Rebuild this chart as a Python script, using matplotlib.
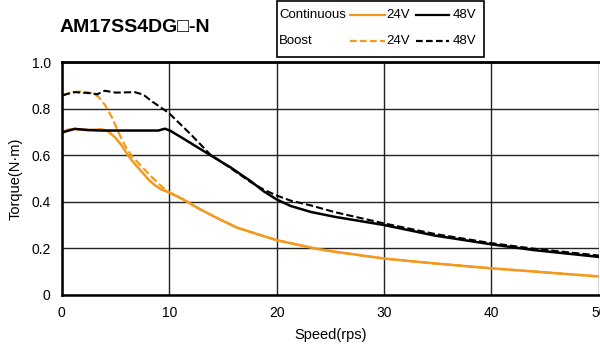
import matplotlib
matplotlib.use("Agg")
import matplotlib.pyplot as plt
from matplotlib.lines import Line2D

plt.rcParams['font.family'] = ['Liberation Sans', 'DejaVu Sans']

# Data (speed rps, torque N·m)
cont24_x = [0.1, 0.6, 1.2, 2.5, 3.7, 4.3, 5.0, 5.6, 6.2, 6.8, 7.5, 8.1, 8.7, 9.3, 10.0, 11.3, 12.9, 14.5, 16.3, 18.2, 20.0, 21.9, 23.8, 25.45, 30.0, 34.7, 40.0, 44.0, 50.0]
cont24_y = [0.70, 0.71, 0.713, 0.708, 0.712, 0.703, 0.675, 0.64, 0.597, 0.562, 0.526, 0.494, 0.47, 0.452, 0.44, 0.41, 0.367, 0.329, 0.289, 0.261, 0.235, 0.216, 0.197, 0.185, 0.156, 0.135, 0.114, 0.10, 0.079]

boost24_x = [0.1, 0.9, 1.9, 2.8, 3.4, 4.0, 4.7, 5.3, 5.9, 6.5, 7.5, 8.4, 9.2, 9.9, 11.3, 12.9, 14.5, 16.3, 18.2, 20.0, 21.9, 23.8, 25.45, 30.0, 34.7, 40.0, 44.0, 50.0]
boost24_y = [0.857, 0.871, 0.874, 0.867, 0.852, 0.817, 0.76, 0.696, 0.64, 0.597, 0.548, 0.505, 0.47, 0.443, 0.41, 0.367, 0.329, 0.289, 0.261, 0.235, 0.216, 0.197, 0.185, 0.156, 0.135, 0.114, 0.10, 0.079]

cont48_x = [0.1, 0.4, 1.2, 2.5, 3.7, 5.6, 9.0, 9.6, 10.1, 11.3, 13.8, 15.7, 17.6, 18.8, 20.0, 21.3, 23.2, 25.45, 30.0, 34.7, 40.0, 44.0, 50.0]
cont48_y = [0.698, 0.703, 0.713, 0.708, 0.706, 0.706, 0.706, 0.714, 0.705, 0.672, 0.601, 0.548, 0.488, 0.445, 0.41, 0.382, 0.356, 0.335, 0.30, 0.255, 0.217, 0.192, 0.163]

boost48_x = [0.1, 0.4, 1.2, 2.5, 3.3, 4.0, 5.0, 6.8, 7.6, 8.4, 9.2, 10.0, 10.6, 12.0, 13.8, 15.7, 17.6, 18.8, 20.0, 21.3, 23.2, 25.45, 30.0, 34.7, 40.0, 44.0, 50.0]
boost48_y = [0.857, 0.862, 0.871, 0.867, 0.862, 0.877, 0.869, 0.871, 0.86, 0.831, 0.806, 0.78, 0.753, 0.69, 0.604, 0.545, 0.484, 0.452, 0.427, 0.405, 0.384, 0.355, 0.307, 0.262, 0.222, 0.198, 0.169]

x_ticks = [0, 10, 20, 30, 40, 50]
y_ticks = [0, 0.2, 0.4, 0.6, 0.8, 1.0]
y_tick_labels = ['0', '0.2', '0.4', '0.6', '0.8', '1.0']

ORANGE = '#f39a1e'

fig = plt.figure(figsize=(6.0, 3.51), dpi=100)
ax = fig.add_axes([0.103, 0.160, 0.895, 0.663])

kw = dict(solid_joinstyle='round', dash_joinstyle='round')
ax.plot(cont24_x, cont24_y, color=ORANGE, lw=1.8, **kw)
ax.plot(boost24_x, boost24_y, color=ORANGE, lw=1.6, ls=(0, (3.5, 1.5)), **kw)
ax.plot(cont48_x, cont48_y, color='black', lw=1.8, **kw)
ax.plot(boost48_x, boost48_y, color='black', lw=1.5, ls=(0, (3.5, 1.5)), **kw)

ax.set_xlim(0, 50)
ax.set_ylim(0, 1.0)
ax.set_xticks(x_ticks)
ax.set_yticks(y_ticks)
ax.set_yticklabels(y_tick_labels)
ax.tick_params(length=0, labelsize=10, pad=8)
ax.grid(True, color='#222222', lw=1.0)
ax.spines['right'].set_visible(False)
ax.spines['top'].set_linewidth(2.0)
ax.spines['left'].set_linewidth(1.8)
ax.spines['bottom'].set_linewidth(1.8)
ax.set_axisbelow(True)

ax.set_xlabel('Speed(rps)', fontsize=10.5, labelpad=6)
ax.set_ylabel('Torque(N·m)', fontsize=10.5, labelpad=6)

fig.text(0.100, 0.922, 'AM17SS4DG\u25a1-N', fontsize=14, fontweight='bold',
         family=['Liberation Sans', 'DejaVu Sans'], va='center', ha='left')

# Manual legend box
W, H = 600.0, 351.0
def fx(px): return px / W
def fy(py): return 1 - py / H
box = plt.Rectangle((fx(277), fy(57)), fx(484) - fx(277), fy(0.5) - fy(57),
                    transform=fig.transFigure, fill=False, edgecolor='black', lw=1.2)
fig.add_artist(box)
for row_y, label, ls in [(15, 'Continuous', '-'), (41, 'Boost', (0, (3, 1.5)))]:
    fig.text(fx(279), fy(row_y), label, fontsize=9.5, va='center', ha='left')
    fig.add_artist(Line2D([fx(350), fx(385)], [fy(row_y), fy(row_y)], color=ORANGE,
                          lw=1.6, ls=ls, transform=fig.transFigure))
    fig.text(fx(386), fy(row_y), '24V', fontsize=9.5, va='center', ha='left')
    fig.add_artist(Line2D([fx(416), fx(449)], [fy(row_y), fy(row_y)], color='black',
                          lw=1.6, ls=ls, transform=fig.transFigure))
    fig.text(fx(453), fy(row_y), '48V', fontsize=9.5, va='center', ha='left')

fig.savefig('out.png', dpi=100)
